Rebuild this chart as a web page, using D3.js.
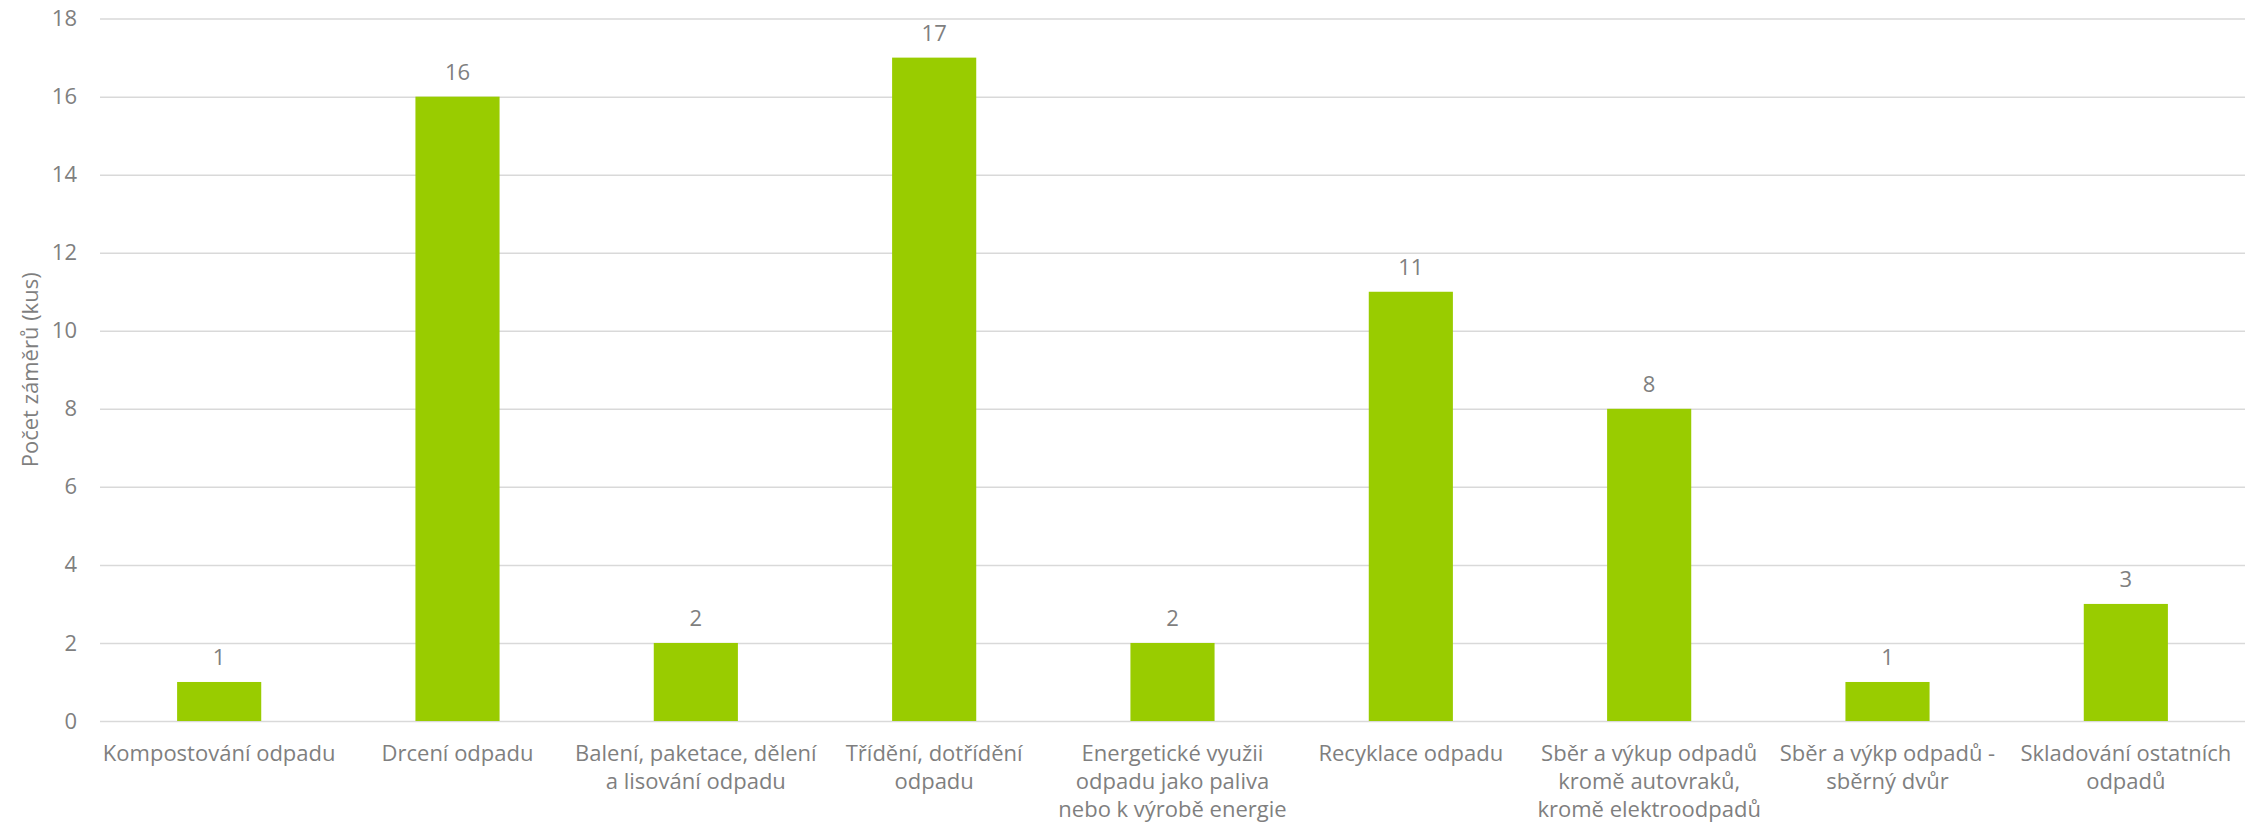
<!DOCTYPE html>
<html>
<head>
<meta charset="utf-8">
<script src="https://cdn.jsdelivr.net/npm/d3@7"></script>
<style>
  body { margin: 0; background: #fff; }
  text { font-family: "Open Sans", sans-serif; }
</style>
</head>
<body>
<div id="chart"></div>
<script>
// data
const categories = [
  ["Kompostování odpadu"],
  ["Drcení odpadu"],
  ["Balení, paketace, dělení", "a lisování odpadu"],
  ["Třídění, dotřídění", "odpadu"],
  ["Energetické využii", "odpadu jako paliva", "nebo k výrobě energie"],
  ["Recyklace odpadu"],
  ["Sběr a výkup odpadů", "kromě autovraků,", "kromě elektroodpadů"],
  ["Sběr a výkp odpadů -", "sběrný dvůr"],
  ["Skladování ostatních", "odpadů"]
];
const values = [1, 16, 2, 17, 2, 11, 8, 1, 3];
const yTicks = [0, 2, 4, 6, 8, 10, 12, 14, 16, 18];
const yTitle = "Počet záměrů (kus)";

const w = 2249;
const h = 828;
const plotLeft = 100, plotRight = 2245, plotTop = 18.6, plotBottom = 721;
const textColor = "#7f7f7f";
const fontSize = "22px";

const svg = d3.select("#chart")
  .append("svg")
  .attr("width", w)
  .attr("height", h);

const x = d3.scaleBand()
  .domain(d3.range(categories.length))
  .range([plotLeft, plotRight])
  .paddingInner(0.647)
  .paddingOuter(0.3235);

const y = d3.scaleLinear()
  .domain([0, 18])
  .range([plotBottom, plotTop]);

//gridlines
const grid = svg.append("g")
  .attr("transform", "translate(" + plotLeft + ",0)")
  .call(d3.axisLeft(y).tickValues(yTicks).tickSize(-(plotRight - plotLeft)).tickFormat(""));
grid.select(".domain").remove();
grid.selectAll("line").attr("stroke", "#d9d9d9").attr("stroke-width", 1.5);

//tick labels
const yAxis = svg.append("g")
  .attr("transform", "translate(" + plotLeft + ",0)")
  .call(d3.axisLeft(y).tickValues(yTicks).tickSize(0).tickPadding(23));
yAxis.select(".domain").remove();
yAxis.selectAll("text")
  .style("font-family", "'Open Sans', sans-serif")
  .style("font-size", fontSize)
  .attr("fill", textColor);

//bars
svg.selectAll(".bar")
  .data(values)
  .enter()
  .append("rect")
  .attr("class", "bar")
  .attr("x", (d, i) => x(i))
  .attr("y", (d) => y(d))
  .attr("width", x.bandwidth())
  .attr("height", (d) => y(0) - y(d))
  .attr("fill", "#99cc00");

//data labels over bars
svg.selectAll(".label")
  .data(values)
  .enter()
  .append("text")
  .attr("class", "label")
  .attr("x", (d, i) => x(i) + x.bandwidth() / 2)
  .attr("y", (d) => y(d) - 17)
  .attr("text-anchor", "middle")
  .style("font-size", fontSize)
  .attr("fill", textColor)
  .text((d) => d);

//category labels, wrapped as in the original
const cat = svg.selectAll(".cat")
  .data(categories)
  .enter()
  .append("text")
  .attr("class", "cat")
  .attr("text-anchor", "middle")
  .style("font-size", fontSize)
  .attr("fill", textColor);

cat.selectAll("tspan")
  .data((d, i) => d.map((line) => ({ line: line, i: i })))
  .enter()
  .append("tspan")
  .attr("x", (d) => x(d.i) + x.bandwidth() / 2)
  .attr("y", (d, j) => 761 + j * 28)
  .text((d) => d.line);

//axis title
svg.append("text")
  .attr("transform", "translate(38," + ((plotTop + plotBottom) / 2) + ") rotate(-90)")
  .attr("text-anchor", "middle")
  .style("font-size", fontSize)
  .attr("fill", textColor)
  .text(yTitle);
</script>
</body>
</html>
